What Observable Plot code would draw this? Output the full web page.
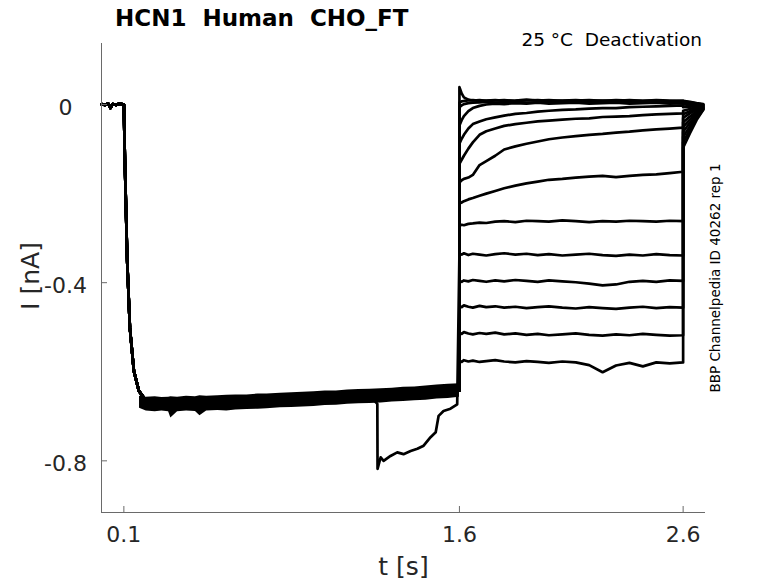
<!DOCTYPE html>
<html><head><meta charset="utf-8">
<script src="https://cdn.jsdelivr.net/npm/d3@7"></script>
<script src="https://cdn.jsdelivr.net/npm/@observablehq/plot@0.6"></script>
<style>
body{margin:0;background:#fff;}
#wrap{position:relative;width:778px;height:583px;font-family:"DejaVu Sans",sans-serif;overflow:hidden;}
#wrap svg{position:absolute;left:0;top:0;}
.t{position:absolute;white-space:pre;line-height:1;}
</style></head><body><div id="wrap"></div>
<script>
// ---- axes ----
const X_DOMAIN = [0, 2.7];
const Y_DOMAIN = [-0.916, 0.137];
const X_TICKS = [0.1, 1.6, 2.6];
const Y_TICKS = [0, -0.4, -0.8];

// ---- holding period (all sweeps) ----
const PRE_T = [0, 0.015, 0.03, 0.04, 0.05, 0.065, 0.08, 0.1];
const PRE_I = [0.001, -0.001, 0.002, -0.008, 0.001, -0.001, 0.002, 0.000];

// ---- activation step onset ----
const DROP_T = [0.1045, 0.115, 0.1268, 0.1447, 0.167, 0.189];
const DROP_I = [-0.126, -0.352, -0.501, -0.598, -0.643, -0.658];

// ---- activation plateau ----
const ACT_T = [0.219, 0.3, 0.4, 0.5, 0.6, 0.7, 0.8, 0.9, 1.0, 1.1, 1.2, 1.3, 1.4, 1.5, 1.6];
const ACT_I = [-0.672, -0.674, -0.672, -0.671, -0.669, -0.667, -0.664, -0.661, -0.659, -0.657, -0.654, -0.652, -0.649, -0.645, -0.642];

// ---- noise envelope of the overlapping sweeps during activation ----
const BAND_T  = [0.17, 0.2, 0.24, 0.27, 0.3, 0.31, 0.34, 0.38, 0.42, 0.44, 0.47, 0.52, 0.56, 0.6, 0.65, 0.7, 0.74, 0.8, 0.85, 0.9, 0.95, 1.0, 1.05, 1.1, 1.15, 1.2, 1.25, 1.3, 1.35, 1.4, 1.45, 1.5, 1.55, 1.6];
const BAND_HI = [-0.655, -0.657, -0.656, -0.658, -0.657, -0.656, -0.657, -0.655, -0.656, -0.654, -0.655, -0.654, -0.653, -0.652, -0.652, -0.650, -0.650, -0.648, -0.647, -0.646, -0.645, -0.643, -0.643, -0.641, -0.640, -0.639, -0.638, -0.637, -0.635, -0.634, -0.632, -0.630, -0.628, -0.627];
const BAND_LO = [-0.682, -0.688, -0.690, -0.688, -0.690, -0.704, -0.690, -0.688, -0.689, -0.699, -0.688, -0.687, -0.688, -0.686, -0.685, -0.684, -0.683, -0.681, -0.680, -0.679, -0.678, -0.676, -0.675, -0.673, -0.672, -0.671, -0.670, -0.668, -0.667, -0.665, -0.664, -0.661, -0.660, -0.657];

// ---- artefact in one sweep ----
const GLITCH_TRACE = 9;
const GLITCH_T = [1.233, 1.234, 1.248, 1.261, 1.292, 1.322, 1.350, 1.382, 1.412, 1.440, 1.471, 1.494, 1.507, 1.529, 1.560, 1.590];
const GLITCH_I = [-0.672, -0.818, -0.792, -0.800, -0.789, -0.781, -0.785, -0.778, -0.773, -0.766, -0.747, -0.736, -0.699, -0.688, -0.683, -0.673];

// ---- deactivation steps ----
const DEAC_T = [1.6, 1.61, 1.62, 1.64, 1.66, 1.69, 1.72, 1.76, 1.8, 1.85, 1.9, 1.95, 2.0, 2.06, 2.12, 2.18, 2.24, 2.3, 2.36, 2.42, 2.48, 2.54, 2.6];
const DEAC_I = [
  [0.039, 0.025, 0.016, 0.011, 0.009, 0.010, 0.008, 0.009, 0.010, 0.008, 0.009, 0.010, 0.008, 0.009, 0.010, 0.008, 0.009, 0.008, 0.010, 0.008, 0.009, 0.007, 0.008],
  [0.004, 0.007, 0.008, 0.009, 0.010, 0.008, 0.009, 0.010, 0.008, 0.009, 0.011, 0.009, 0.010, 0.008, 0.009, 0.010, 0.008, 0.010, 0.009, 0.008, 0.010, 0.009, 0.008],
  [-0.006, -0.002, 0.001, 0.003, 0.004, 0.005, 0.006, 0.004, 0.005, 0.006, 0.004, 0.005, 0.006, 0.004, 0.005, 0.006, 0.004, 0.005, 0.006, 0.004, 0.005, 0.004, 0.005],
  [-0.047, -0.035, -0.026, -0.015, -0.008, -0.003, 0.000, 0.002, 0.001, 0.003, 0.002, 0.004, 0.002, 0.003, 0.004, 0.002, 0.003, 0.004, 0.002, 0.003, 0.004, 0.002, 0.003],
  [-0.088, -0.077, -0.068, -0.054, -0.044, -0.038, -0.033, -0.029, -0.025, -0.021, -0.019, -0.016, -0.014, -0.012, -0.011, -0.009, -0.008, -0.008, -0.006, -0.005, -0.004, -0.003, -0.002],
  [-0.133, -0.124, -0.115, -0.099, -0.085, -0.068, -0.060, -0.054, -0.048, -0.044, -0.041, -0.038, -0.036, -0.034, -0.032, -0.031, -0.028, -0.027, -0.026, -0.024, -0.022, -0.021, -0.020],
  [-0.175, -0.170, -0.167, -0.164, -0.158, -0.136, -0.127, -0.115, -0.101, -0.094, -0.088, -0.083, -0.078, -0.074, -0.071, -0.068, -0.066, -0.063, -0.061, -0.058, -0.056, -0.054, -0.052],
  [-0.222, -0.220, -0.217, -0.213, -0.210, -0.205, -0.200, -0.194, -0.188, -0.182, -0.177, -0.173, -0.169, -0.167, -0.164, -0.162, -0.160, -0.163, -0.160, -0.158, -0.157, -0.154, -0.151],
  [-0.272, -0.270, -0.271, -0.268, -0.267, -0.265, -0.266, -0.263, -0.262, -0.264, -0.261, -0.262, -0.263, -0.260, -0.262, -0.264, -0.262, -0.263, -0.261, -0.262, -0.263, -0.261, -0.262],
  [-0.335, -0.337, -0.334, -0.338, -0.335, -0.337, -0.339, -0.336, -0.334, -0.337, -0.335, -0.338, -0.336, -0.339, -0.337, -0.335, -0.338, -0.340, -0.337, -0.339, -0.336, -0.338, -0.339],
  [-0.396, -0.398, -0.395, -0.397, -0.394, -0.396, -0.398, -0.395, -0.397, -0.394, -0.396, -0.398, -0.395, -0.397, -0.399, -0.402, -0.406, -0.404, -0.398, -0.396, -0.398, -0.395, -0.396],
  [-0.452, -0.455, -0.451, -0.454, -0.456, -0.452, -0.455, -0.453, -0.456, -0.454, -0.457, -0.455, -0.453, -0.456, -0.458, -0.455, -0.457, -0.459, -0.456, -0.454, -0.457, -0.455, -0.456],
  [-0.512, -0.515, -0.511, -0.514, -0.516, -0.513, -0.515, -0.512, -0.516, -0.514, -0.517, -0.515, -0.518, -0.516, -0.514, -0.517, -0.519, -0.516, -0.518, -0.515, -0.517, -0.519, -0.518],
  [-0.575, -0.578, -0.574, -0.577, -0.575, -0.578, -0.576, -0.574, -0.577, -0.579, -0.576, -0.578, -0.580, -0.577, -0.579, -0.585, -0.601, -0.586, -0.580, -0.588, -0.579, -0.581, -0.579]
];

// ---- tail currents after the step ----
const TAIL_T = [2.6, 2.63, 2.66, 2.69];
const TAIL_I = [
  [0.008, 0.006, 0.003, 0.001],
  [0.007, 0.005, 0.002, 0.000],
  [0.004, 0.002, 0.000, -0.001],
  [0.000, -0.001, -0.002, -0.002],
  [-0.006, -0.005, -0.004, -0.003],
  [-0.014, -0.010, -0.006, -0.004],
  [-0.022, -0.015, -0.009, -0.005],
  [-0.030, -0.020, -0.012, -0.006],
  [-0.040, -0.027, -0.016, -0.007],
  [-0.050, -0.034, -0.019, -0.008],
  [-0.061, -0.041, -0.023, -0.009],
  [-0.073, -0.049, -0.027, -0.010],
  [-0.085, -0.057, -0.031, -0.011],
  [-0.097, -0.065, -0.035, -0.012]
];

// ---- build long table ----
const rows = [];
DEAC_I.forEach((deac, k) => {
  const push = (t, I) => rows.push({trace: k, t, I});
  PRE_T.forEach((t, j) => push(t, PRE_I[j]));
  DROP_T.forEach((t, j) => push(t, DROP_I[j]));
  ACT_T.forEach((t, j) => { if (k !== GLITCH_TRACE || t < GLITCH_T[0]) push(t, ACT_I[j]); });
  if (k === GLITCH_TRACE) GLITCH_T.forEach((t, j) => push(t, GLITCH_I[j]));
  DEAC_T.forEach((t, j) => push(t, deac[j]));
  TAIL_T.forEach((t, j) => push(t, TAIL_I[k][j]));
});
const band = BAND_T.map((t, i) => ({t, lo: BAND_LO[i], hi: BAND_HI[i]}));

const AX = "#6a6a6a";
const TXT = "#262626";
const chart = Plot.plot({
  width: 778, height: 583,
  marginLeft: 101, marginRight: 73, marginTop: 43, marginBottom: 71,
  style: {fontFamily: "DejaVu Sans", background: "white", overflow: "visible"},
  x: {domain: X_DOMAIN, label: null},
  y: {domain: Y_DOMAIN, label: null},
  marks: [
    Plot.areaY(band, {x: "t", y1: "lo", y2: "hi", fill: "black"}),
    Plot.line(rows, {x: "t", y: "I", z: "trace", stroke: "black", strokeWidth: 2.7, strokeLinejoin: "round"}),
    Plot.ruleX([X_DOMAIN[0]], {stroke: AX, strokeWidth: 1}),
    Plot.ruleY([Y_DOMAIN[0]], {stroke: AX, strokeWidth: 1}),
    Plot.axisX({ticks: X_TICKS, tickSize: 6, dy: -6, text: null, label: null, stroke: AX}),
    Plot.axisY({ticks: Y_TICKS, tickSize: 6, dx: 6, text: null, label: null, stroke: AX}),
    Plot.axisX({ticks: X_TICKS, tickSize: 0, tickPadding: 14, fontSize: 22, fill: TXT, tickFormat: d => String(d), label: null}),
    Plot.axisY({ticks: Y_TICKS, tickSize: 0, tickPadding: 36, textAnchor: "middle", dy: 3, fontSize: 22, fill: TXT, tickFormat: d => String(d), label: null})
  ]
});
const wrap = document.getElementById("wrap");
wrap.appendChild(chart);

function addText(txt, css) {
  const d = document.createElement("div");
  d.className = "t";
  d.textContent = txt;
  Object.assign(d.style, css);
  wrap.appendChild(d);
}
addText("HCN1  Human  CHO_FT", {left: "115px", top: "6.5px", fontSize: "23px", fontWeight: "bold", color: "#000"});
addText("25 °C  Deactivation", {right: "76px", top: "30.5px", fontSize: "18.5px", color: "#000"});
addText("t [s]", {left: "403.5px", top: "566px", fontSize: "25px", color: TXT, transform: "translate(-50%,-50%)"});
addText("I [nA]", {left: "30px", top: "276px", fontSize: "25px", color: TXT, transform: "translate(-50%,-50%) rotate(-90deg)"});
addText("BBP Channelpedia ID 40262 rep 1", {left: "716px", top: "277.5px", fontSize: "13.5px", color: "#000", transform: "translate(-50%,-50%) rotate(-90deg)"});
</script>
</body></html>
